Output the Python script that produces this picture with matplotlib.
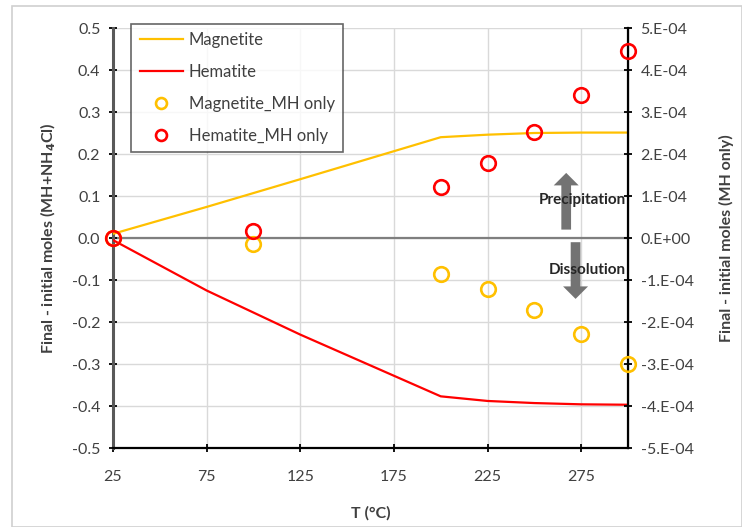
import numpy as np
import matplotlib
matplotlib.use("Agg")
import matplotlib.pyplot as plt
from matplotlib.ticker import FuncFormatter, FixedLocator
from matplotlib.patches import Rectangle

plt.rcParams['font.family'] = ['Lato', 'DejaVu Sans']

# Model results (MH + NH4Cl), left axis
temp_line = [25, 75, 125, 200, 225, 250, 275, 300]
magnetite = [0.01, 0.074, 0.14, 0.240, 0.246, 0.250, 0.251, 0.251]
hematite = [-0.005, -0.125, -0.23, -0.377, -0.388, -0.393, -0.396, -0.397]

# MH-only results, right axis
temp_pts = [25, 100, 200, 225, 250, 275, 300]
magnetite_mh = [0.0, -0.15e-4, -0.85e-4, -1.22e-4, -1.71e-4, -2.29e-4, -2.99e-4]
hematite_mh = [0.0, 0.17e-4, 1.22e-4, 1.79e-4, 2.53e-4, 3.40e-4, 4.45e-4]

x_ticks = [25, 75, 125, 175, 225, 275]
left_ticks = [-0.5, -0.4, -0.3, -0.2, -0.1, 0.0, 0.1, 0.2, 0.3, 0.4, 0.5]
right_ticks = [-5e-4, -4e-4, -3e-4, -2e-4, -1e-4, 0.0, 1e-4, 2e-4, 3e-4, 4e-4, 5e-4]

GOLD = '#FFC000'
RED = '#FF0000'
TXT = '#404040'
FS = 11.5

fig = plt.figure(figsize=(7.42, 5.27), dpi=100)
fig.patches.append(Rectangle((12 / 742, 0.0), 1 - 12 / 742, 1 - 6 / 527,
                             transform=fig.transFigure, fill=False,
                             edgecolor='#d0d0d0', lw=1.2))
ax = fig.add_axes([113 / 742, 79 / 527, 515 / 742, 420 / 527])
ax2 = ax.twinx()

ax.set_xlim(25, 300)
ax.set_ylim(-0.5, 0.5)
ax2.set_ylim(-5e-4, 5e-4)

ax.xaxis.set_major_locator(FixedLocator(x_ticks))
ax.yaxis.set_major_locator(FixedLocator(left_ticks))
ax2.yaxis.set_major_locator(FixedLocator(right_ticks))

ax.yaxis.set_major_formatter(FuncFormatter(lambda v, p: f"{v + 0.0:.1f}".replace('-0.0', '0.0')))
ax2.yaxis.set_major_formatter(FuncFormatter(lambda v, p: format(v, '#.0E')))

# grid
for t in x_ticks[1:]:
    ax.axvline(t, color='#d9d9d9', lw=1.0, zorder=0)
for t in left_ticks:
    ax.axhline(t, color='#d9d9d9', lw=1.0, zorder=0)
ax.axhline(0, color='#7f7f7f', lw=1.6, zorder=1)

l1, = ax.plot(temp_line, magnetite, color=GOLD, lw=1.6, label='Magnetite', zorder=3)
l2, = ax.plot(temp_line, hematite, color=RED, lw=1.6, label='Hematite', zorder=3)
s1, = ax2.plot(temp_pts, magnetite_mh, ls='none', marker='o', ms=10.5, mfc='none',
               mec=GOLD, mew=1.9, label='Magnetite_MH only', clip_on=False, zorder=4)
s2, = ax2.plot(temp_pts, hematite_mh, ls='none', marker='o', ms=10.5, mfc='none',
               mec=RED, mew=1.9, label='Hematite_MH only', clip_on=False, zorder=4)

for a in (ax, ax2):
    a.spines['top'].set_visible(False)
ax.spines['left'].set_color('#595959')
ax.spines['left'].set_linewidth(2.2)
ax.spines['bottom'].set_color('#000000')
ax.spines['bottom'].set_linewidth(1.6)
ax2.spines['right'].set_color('#000000')
ax2.spines['right'].set_linewidth(1.6)
ax2.spines['left'].set_visible(False)
ax2.spines['bottom'].set_visible(False)

ax.tick_params(axis='y', direction='inout', length=6, width=1.3, labelsize=FS,
               labelcolor=TXT, pad=6)
ax.tick_params(axis='x', direction='inout', length=6, width=1.3, labelsize=FS,
               labelcolor=TXT, pad=13)
ax2.tick_params(axis='y', direction='inout', length=6, width=1.3, labelsize=FS,
                labelcolor=TXT, pad=6)

ax.set_xlabel('T (°C)', fontsize=FS, fontweight='bold', color=TXT, labelpad=16)
ax.set_ylabel('Final - initial moles (MH+NH$_\\mathbf{4}$Cl)', fontsize=FS,
              fontweight='bold', color=TXT, labelpad=10)
ax2.set_ylabel('Final - initial moles (MH only)', fontsize=FS, fontweight='bold',
               color=TXT, labelpad=18)

# direction arrows
ax.annotate('', xy=(267, 0.155), xytext=(267, 0.02),
            arrowprops=dict(facecolor='#737373', edgecolor='none', width=7,
                            headwidth=18, headlength=9))
ax.text(299, 0.09, 'Precipitation', ha='right', va='center', fontsize=11,
        fontweight='bold', color='#262626', zorder=5)
ax.annotate('', xy=(272, -0.145), xytext=(272, -0.01),
            arrowprops=dict(facecolor='#737373', edgecolor='none', width=7,
                            headwidth=18, headlength=9))
ax.text(299, -0.075, 'Dissolution', ha='right', va='center', fontsize=11,
        fontweight='bold', color='#262626', zorder=5)

leg = ax.legend(handles=[l1, l2, s1, s2], loc='upper left',
                bbox_to_anchor=(10 / 515, 1.03), fontsize=12, frameon=True,
                fancybox=False, edgecolor='#404040', handlelength=2.6,
                labelspacing=0.95, borderpad=0.5, handletextpad=0.35,
                markerscale=0.75)
leg.get_frame().set_linewidth(1.2)
for t in leg.get_texts():
    t.set_color(TXT)
leg.set_zorder(10)

fig.savefig('out.png', dpi=100)
